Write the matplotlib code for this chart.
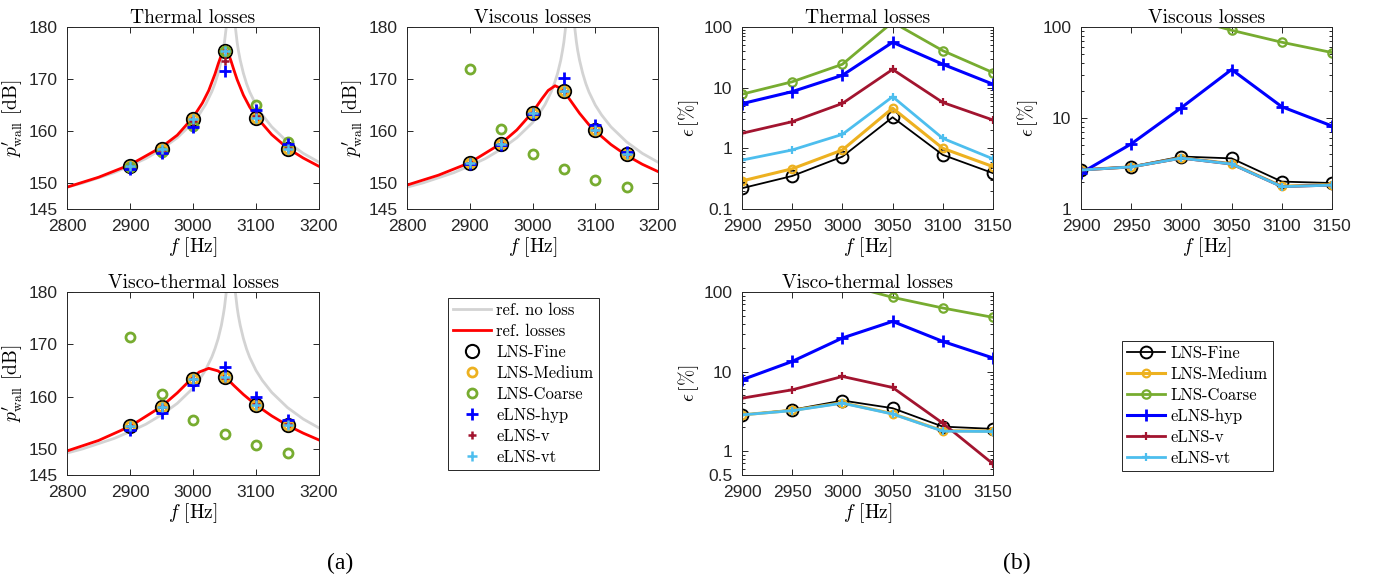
import numpy as np
import matplotlib.pyplot as plt
from matplotlib.ticker import NullFormatter, LogLocator

plt.rcParams['font.family'] = 'Liberation Sans'
plt.rcParams['mathtext.fontset'] = 'cm'
plt.rcParams['axes.unicode_minus'] = False

SERIF = 'cmr10'
TXT = '#262626'
GREY, RED = '#d3d3d3', '#ff0000'
C_FINE, C_MED, C_COARSE = 'k', '#EDB120', '#77AC30'
C_HYP, C_V, C_VT = '#0000ff', '#A2142F', '#4DBEEE'

# --- (a) reference curves ---
f_noloss = [2800, 2825, 2850, 2875, 2900, 2925, 2950, 2975, 3000, 3010, 3020, 3030, 3035, 3040,
            3045, 3048, 3050, 3053, 3056, 3060, 3064, 3067, 3070, 3072, 3075, 3080, 3085, 3090,
            3100, 3110, 3125, 3150, 3175, 3200]
p_noloss = [149.2, 150.0, 151.0, 152.0, 153.3, 154.7, 156.5, 158.7, 161.6, 163.2, 165.1, 167.6, 169.2, 171.1,
            173.6, 175.6, 177.1, 180.2, 185.1, np.nan, 185.1, 180.2, 177.1, 175.5, 173.6, 171.1, 169.1, 167.5,
            165.0, 163.1, 160.8, 157.9, 155.7, 154.0]

f_red_th = [2800, 2850, 2900, 2950, 2975, 3000, 3015, 3025, 3035, 3040, 3045, 3048, 3051, 3054,
            3057, 3060, 3065, 3070, 3080, 3090, 3100, 3125, 3150, 3175, 3200]
p_red_th = [149.2, 151.1, 153.5, 156.9, 159.2, 162.6, 165.4, 167.8, 171.0, 172.9, 174.6, 175.4, 175.7, 175.4,
            174.6, 173.6, 171.7, 169.9, 166.9, 164.6, 162.8, 159.3, 156.7, 154.8, 153.2]

f_red_vi = [2800, 2850, 2900, 2950, 2975, 3000, 3015, 3025, 3036, 3045, 3055, 3065, 3075, 3090,
            3100, 3125, 3150, 3175, 3200]
p_red_vi = [149.6, 151.5, 153.9, 157.6, 160.2, 163.6, 166.2, 167.8, 168.7, 168.2, 166.8, 165.1, 163.4, 161.2,
            160.0, 157.4, 155.3, 153.6, 152.2]

f_red_vt = [2800, 2850, 2900, 2950, 2975, 3000, 3010, 3025, 3040, 3050, 3065, 3080, 3100, 3125,
            3150, 3175, 3200]
p_red_vt = [149.6, 151.6, 154.3, 158.1, 160.7, 163.7, 164.7, 165.4, 164.9, 163.9, 162.1, 160.4, 158.4, 156.3,
            154.5, 153.0, 151.7]

# --- (a) simulated points ---
freq = [2900, 2950, 3000, 3050, 3100, 3150]

th_fine = [153.3, 156.6, 162.3, 175.4, 162.5, 156.6]
th_med = [153.3, 156.6, 162.3, 175.4, 162.5, 156.6]
th_coarse = [153.0, 156.0, 161.0, 175.4, 165.0, 157.9]
th_hyp = [152.7, 155.7, 160.7, 171.6, 164.0, 157.5]
th_v = [153.2, 156.4, 162.0, 173.4, 162.8, 156.8]
th_vt = [153.3, 156.6, 162.3, 175.4, 162.5, 156.6]

vi_fine = [153.9, 157.5, 163.4, 167.6, 160.1, 155.5]
vi_med = [153.9, 157.5, 163.4, 167.6, 160.1, 155.5]
vi_coarse = [171.9, 160.4, 155.6, 152.6, 150.6, 149.2]
vi_hyp = [153.7, 157.3, 163.3, 170.2, 161.2, 155.9]
vi_v = [153.9, 157.5, 163.4, 167.6, 160.1, 155.5]
vi_vt = [153.9, 157.5, 163.4, 167.6, 160.1, 155.5]

vt_fine = [154.4, 158.1, 163.4, 163.7, 158.4, 154.6]
vt_med = [154.4, 158.1, 163.4, 163.7, 158.4, 154.6]
vt_coarse = [171.4, 160.4, 155.6, 152.8, 150.7, 149.3]
vt_hyp = [153.6, 156.9, 162.2, 165.6, 160.0, 155.6]
vt_v = [154.3, 158.0, 163.3, 163.5, 158.5, 154.7]
vt_vt = [154.4, 158.1, 163.4, 163.7, 158.4, 154.6]

# --- (b) errors [%] ---
e_th_fine = [0.22, 0.35, 0.73, 3.25, 0.78, 0.39]
e_th_med = [0.29, 0.46, 0.94, 4.6, 1.0, 0.50]
e_th_coarse = [7.8, 12.5, 24.3, 120, 40.7, 17.7]
e_th_hyp = [5.45, 8.6, 16.0, 56, 24.3, 11.4]
e_th_v = [1.77, 2.75, 5.5, 20.0, 5.7, 2.93]
e_th_vt = [0.64, 0.94, 1.70, 7.1, 1.46, 0.67]

e_vi_fine = [2.70, 2.93, 3.77, 3.60, 2.0, 1.93]
e_vi_med = [2.70, 2.90, 3.65, 3.15, 1.78, 1.85]
e_vi_coarse = [200, 160, 130, 92, 68, 52.4]
e_vi_hyp = [2.48, 5.19, 13.0, 34.1, 13.3, 8.17]
e_vi_v = [2.68, 2.90, 3.62, 3.12, 1.76, 1.83]
e_vi_vt = [2.68, 2.90, 3.62, 3.12, 1.76, 1.83]

e_vt_fine = [2.85, 3.30, 4.32, 3.46, 2.03, 1.90]
e_vt_med = [2.85, 3.25, 4.05, 2.95, 1.80, 1.78]
e_vt_coarse = [200, 160, 126, 85.7, 62.9, 48.0]
e_vt_hyp = [7.87, 13.4, 26.4, 42.7, 23.9, 14.8]
e_vt_v = [4.62, 5.89, 8.67, 6.3, 2.24, 0.69]
e_vt_vt = [2.85, 3.22, 4.0, 2.92, 1.78, 1.76]

labels_a = ['ref. no loss', 'ref. losses', 'LNS-Fine', 'LNS-Medium', 'LNS-Coarse',
            'eLNS-hyp', 'eLNS-v', 'eLNS-vt']
labels_b = labels_a[2:]

W, H = 1381, 582
fig = plt.figure(figsize=(W / 100, H / 100), dpi=100)


def box(x0, y0, x1, y1):
    return [x0 / W, 1 - y1 / H, (x1 - x0) / W, (y1 - y0) / H]


def style(ax, title, ylabel):
    ax.tick_params(which='both', direction='in', top=True, right=True, colors=TXT,
                   labelsize=12.5, labelcolor=TXT, width=0.7)
    ax.tick_params(which='major', length=4, pad=7)
    ax.tick_params(which='minor', length=2)
    for s in ax.spines.values():
        s.set_color(TXT)
        s.set_linewidth(0.7)
    ax.set_title(title, family=SERIF, size=14, pad=3)
    ax.set_xlabel(r'$f$ [Hz]', family=SERIF, size=14, labelpad=1)
    ax.set_ylabel(ylabel, family=SERIF, size=14, labelpad=2)


def panel_a(rect, title, red_f, red_p, fine, med, coarse, hyp, v, vt):
    ax = fig.add_axes(rect)
    h = []
    h += ax.plot(f_noloss, p_noloss, color=GREY, lw=2)
    h += ax.plot(red_f, red_p, color=RED, lw=2)
    h += ax.plot(freq, fine, 'o', mfc='none', mec=C_FINE, ms=9.5, mew=1.5)
    h += ax.plot(freq, med, 'o', mfc='none', mec=C_MED, ms=6.5, mew=2)
    h += ax.plot(freq, coarse, 'o', mfc='none', mec=C_COARSE, ms=6.5, mew=2)
    h += ax.plot(freq, hyp, '+', color=C_HYP, ms=9, mew=2)
    h += ax.plot(freq, v, '+', color=C_V, ms=6, mew=1.8)
    h += ax.plot(freq, vt, '+', color=C_VT, ms=7, mew=1.8)
    ax.set_xlim(2800, 3200)
    ax.set_ylim(145, 180)
    ax.set_xticks(range(2800, 3201, 100))
    ax.set_yticks([145, 150, 160, 170, 180])
    style(ax, title, r"$p^{\prime}_{\rm wall}$ [dB]")
    return h


def panel_b(rect, title, ylim, yticks, fine, med, coarse, hyp, v, vt):
    ax = fig.add_axes(rect)
    ax.set_yscale('log')
    h = []
    h += ax.plot(freq, fine, '-o', color=C_FINE, lw=1.3, mfc='none', ms=8.5, mew=1.4)
    h += ax.plot(freq, med, '-o', color=C_MED, lw=2.2, mfc='none', ms=5.5, mew=1.6)
    h += ax.plot(freq, coarse, '-o', color=C_COARSE, lw=2, mfc='none', ms=6, mew=1.6)
    h += ax.plot(freq, hyp, '-+', color=C_HYP, lw=2.2, ms=9, mew=2)
    h += ax.plot(freq, v, '-+', color=C_V, lw=2, ms=6, mew=1.6)
    h += ax.plot(freq, vt, '-+', color=C_VT, lw=2, ms=6, mew=1.6)
    ax.set_xlim(2900, 3150)
    ax.set_ylim(*ylim)
    ax.set_xticks(range(2900, 3151, 50))
    ax.yaxis.set_minor_locator(LogLocator(base=10, subs=np.arange(2, 10), numticks=20))
    ax.yaxis.set_minor_formatter(NullFormatter())
    ax.set_yticks(yticks)
    ax.set_yticklabels([('%g' % t) for t in yticks])
    style(ax, title, r'$\epsilon\,[\%]$')
    return h


ha = panel_a(box(67, 27, 319, 209), 'Thermal losses', f_red_th, p_red_th,
             th_fine, th_med, th_coarse, th_hyp, th_v, th_vt)
panel_a(box(407, 27, 658, 209), 'Viscous losses', f_red_vi, p_red_vi,
        vi_fine, vi_med, vi_coarse, vi_hyp, vi_v, vi_vt)
panel_a(box(67, 292, 319, 475), 'Visco-thermal losses', f_red_vt, p_red_vt,
        vt_fine, vt_med, vt_coarse, vt_hyp, vt_v, vt_vt)

hb = panel_b(box(742, 27, 993, 209), 'Thermal losses', (0.1, 100), [0.1, 1, 10, 100],
             e_th_fine, e_th_med, e_th_coarse, e_th_hyp, e_th_v, e_th_vt)
panel_b(box(1081, 27, 1332, 209), 'Viscous losses', (1, 100), [1, 10, 100],
        e_vi_fine, e_vi_med, e_vi_coarse, e_vi_hyp, e_vi_v, e_vi_vt)
panel_b(box(742, 292, 993, 475), 'Visco-thermal losses', (0.5, 100), [0.5, 1, 10, 100],
        e_vt_fine, e_vt_med, e_vt_coarse, e_vt_hyp, e_vt_v, e_vt_vt)

leg_kw = dict(loc='upper left', bbox_transform=fig.transFigure, prop={'family': SERIF, 'size': 12},
              frameon=True, fancybox=False, framealpha=1, borderaxespad=0, labelspacing=0.34,
              handlelength=2.3, handletextpad=0.3, borderpad=0.3, numpoints=1)
l1 = fig.legend(ha, labels_a, bbox_to_anchor=(448 / W, 1 - 298 / H), **leg_kw)
l2 = fig.legend(hb, labels_b, bbox_to_anchor=(1122 / W, 1 - 341 / H), **leg_kw)
for l in (l1, l2):
    l.get_frame().set_edgecolor(TXT)
    l.get_frame().set_linewidth(0.7)

fig.text(340 / W, 1 - 563 / H, '(a)', ha='center', va='center', family='Liberation Serif', size=17)
fig.text(1017 / W, 1 - 563 / H, '(b)', ha='center', va='center', family='Liberation Serif', size=17)

fig.savefig('out.png', dpi=100)
